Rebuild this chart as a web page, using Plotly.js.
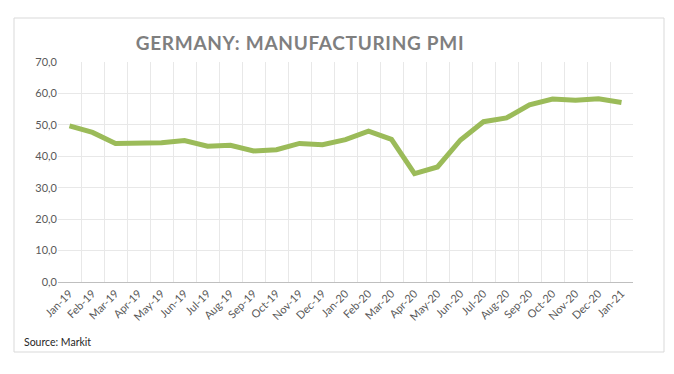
<!DOCTYPE html>
<html>
<head>
<meta charset="utf-8">
<script src="https://cdn.plot.ly/plotly-3.0.1.min.js"></script>
<style>html,body{margin:0;padding:0;background:#fff;}#chart{width:674px;height:374px;}
.gtitle{letter-spacing:0.7px;}</style>
</head>
<body>
<div id="chart"></div>
<script>
const months = ["Jan-19","Feb-19","Mar-19","Apr-19","May-19","Jun-19","Jul-19","Aug-19","Sep-19","Oct-19","Nov-19","Dec-19",
  "Jan-20","Feb-20","Mar-20","Apr-20","May-20","Jun-20","Jul-20","Aug-20","Sep-20","Oct-20","Nov-20","Dec-20","Jan-21"];
const pmi = [49.7,47.6,44.1,44.4,44.3,45.0,43.2,43.5,41.7,42.1,44.1,43.7,
  45.3,48.0,45.4,34.5,36.6,45.2,51.0,52.2,56.4,58.2,57.8,58.3,57.1];
const yTicks = [0,10,20,30,40,50,60,70];

const L = 58, R = 633, T = 62, B = 282, W = 674, H = 374;
const pw = R - L, ph = B - T;
const px = v => (v - L) / pw;
const py = v => (B - v) / ph;

const trace = {
  x: months, y: pmi, type: 'scatter', mode: 'lines',
  line: {color: '#9bbb59', width: 5},
  hoverinfo: 'x+y'
};

const layout = {
  width: W, height: H,
  margin: {l: L, r: W - R, t: T, b: H - B},
  paper_bgcolor: '#fff', plot_bgcolor: '#fff',
  separators: ',.',
  showlegend: false,
  font: {family: 'Lato, "Open Sans", sans-serif', color: '#595959'},
  title: {
    text: '<b>GERMANY: MANUFACTURING PMI</b>',
    font: {family: 'Lato, "Open Sans", sans-serif', size: 19, color: '#7f7f7f'},
    xref: 'paper', x: px(300), xanchor: 'center',
    yref: 'container', y: 1 - 43 / H, yanchor: 'middle'
  },
  xaxis: {
    type: 'category', categoryorder: 'array', categoryarray: months,
    range: [-0.5, months.length - 0.5],
    tickson: 'boundaries', ticks: '', tickangle: -45,
    showgrid: true, gridcolor: '#e8e8e8', gridwidth: 1,
    showline: true, linecolor: '#bfbfbf', linewidth: 1,
    zeroline: false,
    tickfont: {size: 11, color: '#595959'}
  },
  yaxis: {
    range: [0, 70], tickvals: yTicks, tickformat: '.1f',
    showgrid: true, gridcolor: '#e8e8e8', gridwidth: 1,
    zeroline: false, showline: false, ticks: '',
    tickfont: {size: 11, color: '#595959'}
  },
  shapes: [{
    type: 'rect', xref: 'paper', yref: 'paper',
    x0: px(14), x1: px(664), y0: py(352), y1: py(18),
    line: {color: '#d9d9d9', width: 1}, fillcolor: 'rgba(0,0,0,0)', layer: 'below'
  }],
  annotations: [{
    text: 'Source: Markit', xref: 'paper', yref: 'paper',
    x: px(22), y: py(342), xanchor: 'left', yanchor: 'middle', showarrow: false,
    font: {size: 10.5, color: '#262626', family: 'Lato, "Open Sans", sans-serif'}
  }]
};

Plotly.newPlot('chart', [trace], layout, {displayModeBar: false, staticPlot: true});
</script>
</body>
</html>
